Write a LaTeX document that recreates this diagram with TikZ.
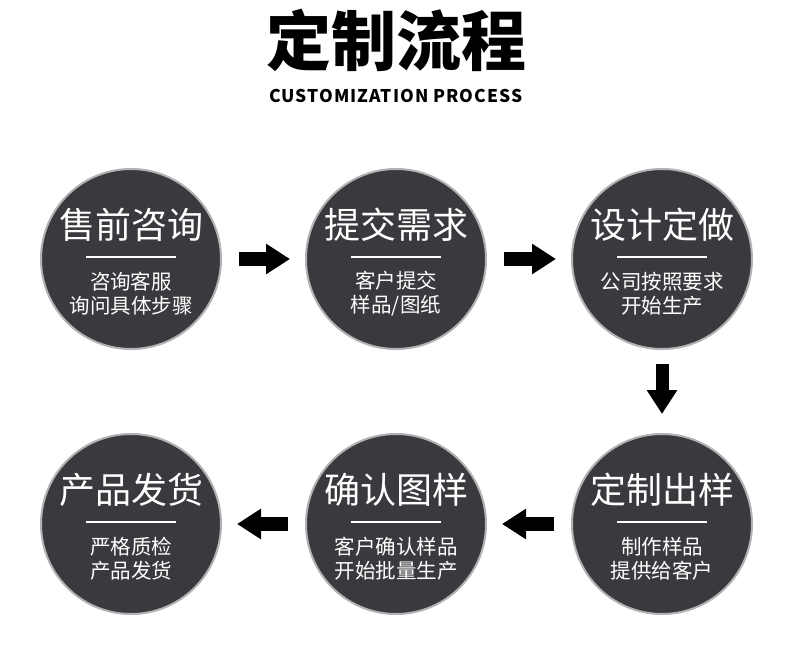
\documentclass[tikz,border=0pt]{standalone}
\usepackage{fontspec}
\usepackage{xcolor}
\usepackage{tikz}
\usetikzlibrary{arrows.meta, positioning, calc}
\newfontfamily\cjk{Noto Sans CJK SC}
\newfontfamily\cjkspaced[LetterSpace=6]{Noto Sans CJK SC}
\definecolor{disc}{RGB}{58,57,62}
\definecolor{rim}{RGB}{178,178,180}
\tikzset{
  stepdisc/.style={circle, fill=disc, draw=rim, line width=2pt, minimum size=180pt, inner sep=0pt, outer sep=0pt},
  steptitle/.style={text=white, inner sep=0pt, font=\cjk\fontsize{36}{40}\selectfont},
  stepsub/.style={text=white, inner sep=0pt, align=center, font=\cjk\fontsize{20.5}{24}\selectfont},
  stepline/.style={fill=white, minimum width=90pt, minimum height=2pt, inner sep=0pt},
  flowarrow/.style={line width=14pt, -{Triangle[length=24pt,width=29pt]}, shorten <=18pt, shorten >=16pt}
}
\newcommand{\flowstep}[5]{%
  \node[stepdisc] (#1) at (#2) {};
  \node[steptitle] (#1-title) at ([yshift=34pt]#1.center) {#3};
  \node[stepline] (#1-line) at ([yshift=2pt]#1.center) {};
  \node[stepsub] (#1-sub) at ([yshift=-35pt]#1.center) {#4\\#5};
}

\begin{document}
\begin{tikzpicture}[x=1pt, y=1pt]
  \fill[white] (0,0) rectangle (790,-655);
  \useasboundingbox (0,0) rectangle (790,-655);

  % heading
  \node[font=\cjk\bfseries\fontsize{65}{70}\selectfont, inner sep=0pt] (title) at (396,-40) {定制流程};
  \node[font=\cjkspaced\bfseries\fontsize{17.5}{20}\selectfont, inner sep=0pt] (subtitle) at (396,-96) {CUSTOMIZATION PROCESS};

  % six steps
  \flowstep{consult}{131,-259}{售前咨询}{咨询客服}{询问具体步骤}
  \flowstep{submit}{396,-259}{提交需求}{客户提交}{样品/图纸}
  \flowstep{design}{662,-259}{设计定做}{公司按照要求}{开始生产}
  \flowstep{sample}{662,-524}{定制出样}{制作样品}{提供给客户}
  \flowstep{confirm}{396,-524}{确认图样}{客户确认样品}{开始批量生产}
  \flowstep{ship}{131,-524}{产品发货}{严格质检}{产品发货}

  % arrows between steps
  \draw[flowarrow] (consult) -- (submit);
  \draw[flowarrow] (submit) -- (design);
  \draw[flowarrow, line width=13pt, shorten <=15pt, shorten >=20pt] (design) -- (sample);
  \draw[flowarrow] (sample) -- (confirm);
  \draw[flowarrow] (confirm) -- (ship);
\end{tikzpicture}
\end{document}
